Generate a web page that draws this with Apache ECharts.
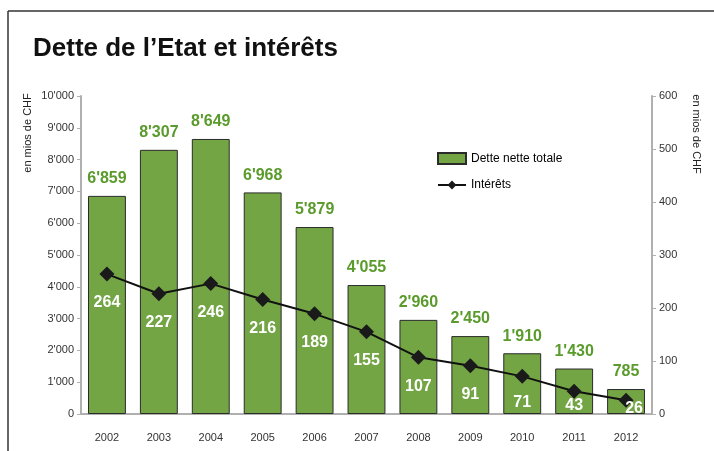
<!DOCTYPE html>
<html>
<head>
<meta charset="utf-8">
<script src="https://cdn.jsdelivr.net/npm/echarts@6/dist/echarts.min.js"></script>
<style>
  html, body { margin: 0; padding: 0; background: #fff; }
  #main { width: 714px; height: 451px; }
</style>
</head>
<body>
<div id="main"></div>
<script>
  const years = ['2002', '2003', '2004', '2005', '2006', '2007', '2008', '2009', '2010', '2011', '2012'];
  const detteNette = [6859, 8307, 8649, 6968, 5879, 4055, 2960, 2450, 1910, 1430, 785];
  const interets = [264, 227, 246, 216, 189, 155, 107, 91, 71, 43, 26];

  const font = '"Liberation Sans", Arial, sans-serif';

  // 6859 -> 6'859
  function fmt(v) {
    return String(v).replace(/\B(?=(\d{3})+(?!\d))/g, "'");
  }

  // white labels sit below the point, squeezed up near the axis for the last years
  function interetLabelOffset(i) {
    if (i === 8) return [0, 26];
    if (i === 9) return [0, 14];
    if (i === 10) return [8, 8];
    return [0, 29];
  }

  const chart = echarts.init(document.getElementById('main'));
  const option = {
    backgroundColor: '#fff',
    animation: false,
    grid: { left: 81, right: 62, top: 96, bottom: 37 },
    legend: {
      orient: 'vertical',
      left: 432,
      top: 147,
      itemWidth: 28,
      itemHeight: 11,
      itemGap: 14,
      textStyle: { fontFamily: font, fontSize: 12, color: '#000' },
      data: [
        { name: 'Dette nette totale', icon: 'rect' },
        { name: 'Intérêts' }
      ]
    },
    xAxis: [{
      type: 'category',
      data: years,
      axisLine: { lineStyle: { color: '#b0b0b0', width: 2 } },
      axisTick: { length: 5, lineStyle: { color: '#b0b0b0', width: 2 } },
      axisLabel: { margin: 18, fontFamily: font, fontSize: 11, color: '#333' }
    }, {
      type: 'category',
      data: years,
      position: 'bottom',
      axisLine: { show: false },
      axisTick: { inside: true, length: 5, lineStyle: { color: '#b0b0b0', width: 2 } },
      axisLabel: { show: false }
    }],
    yAxis: [{
      type: 'value',
      min: 0, max: 10000, interval: 1000,
      axisLine: { show: true, lineStyle: { color: '#b0b0b0', width: 2 } },
      axisTick: { show: true, length: 4, lineStyle: { color: '#b0b0b0', width: 1 } },
      splitLine: { show: false },
      axisLabel: { margin: 7, fontFamily: font, fontSize: 11, color: '#333', formatter: fmt }
    }, {
      type: 'value',
      min: 0, max: 600, interval: 100,
      position: 'right',
      axisLine: { show: true, lineStyle: { color: '#b0b0b0', width: 2 } },
      axisTick: { show: true, length: 4, lineStyle: { color: '#b0b0b0', width: 1 } },
      splitLine: { show: false },
      axisLabel: { margin: 7, fontFamily: font, fontSize: 11, color: '#333' }
    }],
    graphic: [
      { type: 'line', shape: { x1: 8, y1: 11, x2: 714, y2: 11 }, style: { stroke: '#333', lineWidth: 1.5 } },
      { type: 'line', shape: { x1: 8, y1: 11, x2: 8, y2: 451 }, style: { stroke: '#333', lineWidth: 1.5 } },
      {
        type: 'text', left: 33, top: 36,
        style: { text: 'Dette de l\u2019Etat et intérêts', fontFamily: font, fontSize: 26, fontWeight: 'bold', fill: '#111' }
      },
      {
        type: 'text', x: 28, y: 133, rotation: Math.PI / 2,
        style: { text: 'en mios de CHF', fontFamily: font, fontSize: 11, fill: '#222', align: 'center', verticalAlign: 'middle' }
      },
      {
        type: 'text', x: 696, y: 134, rotation: -Math.PI / 2,
        style: { text: 'en mios de CHF', fontFamily: font, fontSize: 11, fill: '#222', align: 'center', verticalAlign: 'middle' }
      }
    ],
    series: [{
      name: 'Dette nette totale',
      type: 'bar',
      data: detteNette,
      barWidth: '73%',
      itemStyle: { color: '#73a545', borderColor: '#2b2b2b', borderWidth: 1 },
      label: {
        show: true,
        position: 'top',
        distance: 9,
        fontFamily: font,
        fontSize: 16,
        fontWeight: 'bold',
        color: '#5a9b2c',
        formatter: p => fmt(p.value)
      }
    }, {
      name: 'Intérêts',
      type: 'line',
      yAxisIndex: 1,
      clip: false,
      data: interets.map((v, i) => ({ value: v, label: { offset: interetLabelOffset(i) } })),
      symbol: 'diamond',
      symbolSize: 15,
      lineStyle: { color: '#111', width: 2 },
      itemStyle: { color: '#1a1a1a' },
      z: 5,
      label: {
        show: true,
        position: 'inside',
        fontFamily: font,
        fontSize: 16,
        fontWeight: 'bold',
        color: '#fff'
      }
    }]
  };
  chart.setOption(option);
</script>
</body>
</html>
